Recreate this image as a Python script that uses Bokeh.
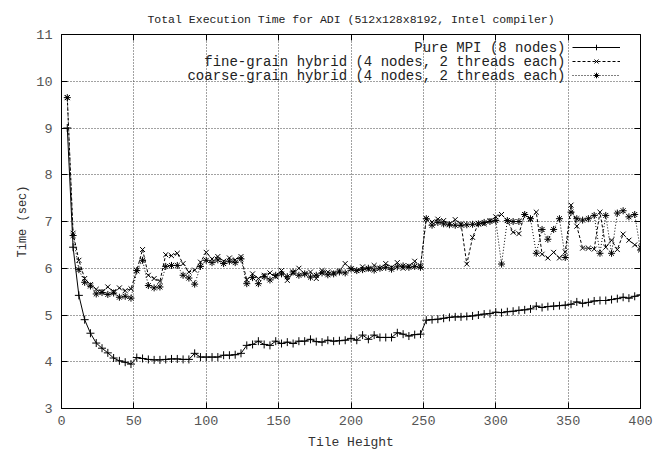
from bokeh.plotting import figure
from bokeh.models import Legend, LegendItem, Label, LinearAxis, Range1d, FixedTicker
from bokeh.core.properties import value
from bokeh.embed import file_html
from bokeh.resources import INLINE

tile_height = list(range(4, 401, 4))

pure_mpi = [
    9.00, 6.45, 5.42, 4.90, 4.61, 4.40, 4.29, 4.19, 4.08, 4.02,
    3.99, 3.95, 4.09, 4.07, 4.05, 4.04, 4.04, 4.05, 4.06, 4.06,
    4.05, 4.05, 4.18, 4.10, 4.10, 4.10, 4.10, 4.14, 4.14, 4.15,
    4.18, 4.35, 4.37, 4.44, 4.37, 4.35, 4.44, 4.39, 4.42, 4.39,
    4.44, 4.44, 4.48, 4.43, 4.42, 4.46, 4.44, 4.45, 4.46, 4.50,
    4.46, 4.57, 4.48, 4.57, 4.52, 4.52, 4.52, 4.62, 4.59, 4.55,
    4.58, 4.59, 4.89, 4.90, 4.91, 4.93, 4.95, 4.96, 4.96, 4.97,
    4.98, 5.00, 5.02, 5.03, 5.06, 5.05, 5.07, 5.08, 5.10, 5.11,
    5.13, 5.19, 5.16, 5.18, 5.19, 5.20, 5.21, 5.23, 5.28, 5.25,
    5.27, 5.30, 5.31, 5.31, 5.33, 5.35, 5.38, 5.36, 5.40, 5.43,
]

fine_grain = [
    9.65, 6.75, 6.17, 5.78, 5.65, 5.55, 5.50, 5.60, 5.50, 5.58,
    5.52, 5.56, 5.95, 6.40, 5.85, 5.78, 5.72, 6.29, 6.27, 6.32,
    6.10, 5.92, 5.96, 6.13, 6.34, 6.20, 6.25, 6.15, 6.22, 6.18,
    6.25, 5.75, 5.88, 5.78, 5.85, 5.90, 5.82, 5.95, 5.74, 5.90,
    6.00, 5.88, 5.92, 5.78, 5.95, 5.92, 5.90, 5.94, 6.10, 5.98,
    5.95, 6.03, 5.98, 6.06, 6.00, 6.10, 6.02, 6.12, 6.00, 6.05,
    6.15, 6.05, 7.06, 6.99, 7.05, 7.02, 6.95, 7.04, 6.95, 6.09,
    6.66, 6.96, 6.95, 7.02, 7.10, 7.15, 7.02, 6.77, 6.74, 7.15,
    7.05, 7.20, 6.30, 6.22, 6.34, 6.22, 6.35, 7.35, 6.90, 6.43,
    6.43, 6.41, 7.20, 6.45, 6.60, 6.40, 6.73, 6.60, 6.50, 6.45,
]

coarse_grain = [
    9.65, 6.70, 5.97, 5.70, 5.62, 5.45, 5.48, 5.44, 5.47, 5.38,
    5.40, 5.36, 5.95, 6.17, 5.63, 5.58, 5.60, 6.04, 6.06, 6.06,
    5.85, 5.79, 5.66, 6.04, 6.17, 6.12, 6.18, 6.10, 6.15, 6.12,
    6.20, 5.67, 5.80, 5.67, 5.82, 5.75, 5.85, 5.88, 5.82, 5.92,
    5.85, 5.88, 5.81, 5.85, 5.90, 5.86, 5.88, 5.92, 5.90, 5.99,
    5.95, 5.97, 6.00, 5.96, 6.00, 6.02, 5.98, 6.03, 6.05, 6.02,
    6.04, 6.02, 7.06, 6.92, 6.98, 6.95, 6.93, 6.92, 6.92, 6.93,
    6.94, 6.95, 6.98, 7.00, 7.02, 6.09, 7.02, 7.00, 7.00, 7.15,
    7.06, 6.32, 6.83, 6.62, 6.83, 7.06, 6.23, 7.20, 7.06, 7.03,
    7.06, 7.13, 6.32, 7.13, 6.32, 7.18, 7.23, 7.10, 7.15, 6.39,
]

x_ticks = [0, 50, 100, 150, 200, 250, 300, 350, 400]
y_ticks = [3, 4, 5, 6, 7, 8, 9, 10, 11]

series_labels = [
    "Pure MPI (8 nodes)",
    "fine-grain hybrid (4 nodes, 2 threads each)",
    "coarse-grain hybrid (4 nodes, 2 threads each)",
]

MONO = "Liberation Mono"

p = figure(
    frame_width=579, frame_height=374,
    x_range=Range1d(0, 400), y_range=Range1d(3, 11),
    output_backend="svg", toolbar_location=None,
    min_border_left=61, min_border_right=22, min_border_top=34, min_border_bottom=47,
    title="Total Execution Time for ADI (512x128x8192, Intel compiler)",
)
p.title.align = "center"
p.title.text_font = MONO
p.title.text_font_size = "11.5px"
p.title.text_font_style = "normal"
p.title.text_color = "#222222"
p.title.standoff = 18

p.outline_line_color = "black"
p.outline_line_width = 1
p.background_fill_color = "white"

for ax in (p.xaxis[0], p.yaxis[0]):
    ax.major_tick_in = 6
    ax.major_tick_out = 0
    ax.minor_tick_line_color = None
    ax.axis_line_color = "black"
    ax.major_tick_line_color = "black"
    ax.major_label_text_font = MONO
    ax.major_label_text_font_size = "13.5px"
    ax.major_label_text_color = "#555555"
    ax.axis_label_text_font = MONO
    ax.axis_label_text_font_style = "normal"
    ax.axis_label_text_color = "#333333"

p.xaxis[0].ticker = FixedTicker(ticks=x_ticks)
p.yaxis[0].ticker = FixedTicker(ticks=y_ticks)
p.xaxis[0].axis_label = "Tile Height"
p.xaxis[0].axis_label_text_font_size = "13px"
p.xaxis[0].major_label_standoff = 7
p.xaxis[0].axis_label_standoff = 7
p.yaxis[0].axis_label = "Time (sec)"
p.yaxis[0].axis_label_text_font_size = "12px"
p.yaxis[0].major_label_standoff = 9
p.yaxis[0].axis_label_standoff = 3

# mirror ticks (gnuplot style), labels not drawn
top_axis = LinearAxis(ticker=FixedTicker(ticks=x_ticks), major_tick_in=6, major_tick_out=0,
                      minor_tick_line_color=None, axis_line_color=None,
                      major_label_text_color=None, major_label_text_font_size="1px",
                      major_label_standoff=0)
right_axis = LinearAxis(ticker=FixedTicker(ticks=y_ticks), major_tick_in=6, major_tick_out=0,
                        minor_tick_line_color=None, axis_line_color=None,
                        major_label_text_color=None, major_label_text_font_size="1px",
                        major_label_standoff=0)
p.add_layout(top_axis, "above")
p.add_layout(right_axis, "right")

p.xgrid.ticker = FixedTicker(ticks=x_ticks)
p.ygrid.ticker = FixedTicker(ticks=y_ticks)
for g in (p.xgrid[0], p.ygrid[0]):
    g.grid_line_color = "#444444"
    g.grid_line_dash = "1 2"
    g.grid_line_width = 1

l1 = p.line(tile_height, pure_mpi, line_color="black", line_width=1)
s1 = p.scatter(tile_height, pure_mpi, marker="cross", size=8, line_color="black", line_width=1)
l2 = p.line(tile_height, fine_grain, line_color="black", line_width=1, line_dash="3 2")
s2 = p.scatter(tile_height, fine_grain, marker="x", size=7, line_color="black", line_width=1)
l3 = p.line(tile_height, coarse_grain, line_color="black", line_width=1, line_dash="1 2")
s3 = p.scatter(tile_height, coarse_grain, marker="asterisk", size=7, line_color="black", line_width=1)

legend = Legend(
    items=[LegendItem(label=value(" "), renderers=[l1, s1]),
           LegendItem(label=value(" "), renderers=[l2, s2]),
           LegendItem(label=value(" "), renderers=[l3, s3])],
    location="top_right", margin=6, padding=0, spacing=0,
    glyph_width=48, glyph_height=14, label_height=14, label_width=14,
    label_standoff=0, label_text_font_size="1px",
    border_line_alpha=0, background_fill_alpha=0,
)
p.add_layout(legend)

for i, txt in enumerate(series_labels):
    p.add_layout(Label(x=504, y=361 - 14 * i, x_units="screen", y_units="screen",
                       text=txt, text_align="right", text_baseline="middle",
                       text_font=MONO, text_font_size="14px", text_color="#222222"))

open("out.html", "w").write(file_html(p, INLINE))
